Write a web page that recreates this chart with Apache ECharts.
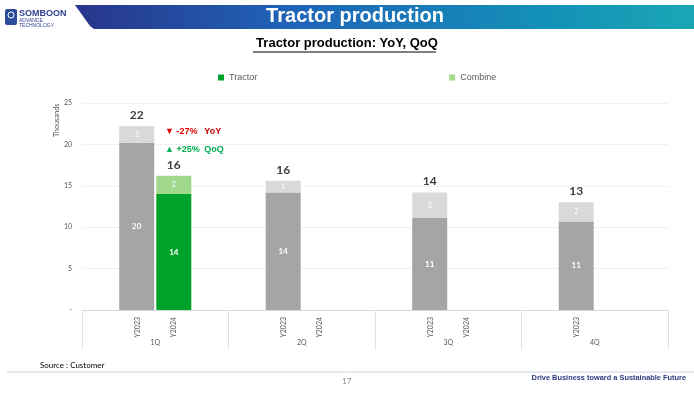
<!DOCTYPE html>
<html>
<head>
<meta charset="utf-8">
<script src="https://cdn.jsdelivr.net/npm/echarts@6/dist/echarts.min.js"></script>
<style>
  html, body { margin: 0; padding: 0; background: #fff; }
  #main { width: 694px; height: 398px; }
</style>
</head>
<body>
<div id="main"></div>
<script>
// data (thousand units)
var quarters = ['1Q', '2Q', '3Q', '4Q'];
var tractor2023 = [20.2, 14.2, 11.1, 10.7];
var combine2023 = [2.0, 1.4, 3.1, 2.3];
var tractor2024 = [14.0, null, null, null];
var combine2024 = [2.2, null, null, null];
var yearLabels = [['Y2023', 'Y2024'], ['Y2023', 'Y2024'], ['Y2023', 'Y2024'], ['Y2023']];

var font = 'Lato, "Noto Sans", sans-serif';
var narrow = '"Liberation Sans Narrow", "Liberation Sans", Arial, sans-serif';

function sum(a, b) {
    return a.map(function (v, i) { return v == null ? null : v + b[i]; });
}
var total2023 = sum(tractor2023, combine2023);
var total2024 = sum(tractor2024, combine2024);

var subData = [];
yearLabels.forEach(function (ys, q) {
    ys.forEach(function (y, k) { subData.push([q, 0, k, y]); });
});

var myChart = echarts.init(document.getElementById('main'));

function inside(size, bold) {
    return {
        show: true, position: 'inside', color: '#fff', fontSize: size,
        fontWeight: bold ? 'bold' : 'normal', fontFamily: font,
        formatter: function (p) { return Math.round(p.value); }
    };
}
function totalLabel(arr) {
    return {
        show: true, position: 'top', distance: 5, color: '#404040',
        fontSize: 12, fontWeight: 'bold', fontFamily: font,
        formatter: function (p) { return Math.round(arr[p.dataIndex]); }
    };
}

option = {
    animation: false,
    textStyle: { fontFamily: font },
    legend: {
        data: ['Tractor', 'Combine'],
        top: 68, left: 213, itemGap: 192,
        itemWidth: 6, itemHeight: 6, icon: 'rect',
        textStyle: { fontSize: 9, color: '#595959', fontFamily: narrow }
    },
    grid: { left: 82, right: 26, top: 103, bottom: 88 },
    xAxis: {
        type: 'category',
        data: quarters,
        axisLine: { lineStyle: { color: '#d9d9d9' } },
        axisTick: { show: true, length: 40, lineStyle: { color: '#e3e3e3' } },
        axisLabel: { margin: 29, fontSize: 7, color: '#595959' }
    },
    yAxis: {
        type: 'value', min: 0, max: 25, interval: 5,
        axisLine: { show: false },
        splitLine: { lineStyle: { color: '#f0f0f0' } },
        axisLabel: {
            fontSize: 7, color: '#595959', margin: 10,
            formatter: function (v) { return v === 0 ? '-' : v; }
        }
    },
    series: [
        { name: 'Tractor 2023', type: 'bar', stack: 'y2023', barWidth: 35, barGap: '6%',
          data: tractor2023, itemStyle: { color: '#a5a5a5' }, label: inside(8, true) },
        { name: 'Combine 2023', type: 'bar', stack: 'y2023',
          data: combine2023, itemStyle: { color: '#d9d9d9' }, label: inside(7, false) },
        { name: 'Total 2023', type: 'bar', stack: 'y2023',
          data: total2023.map(function () { return 0; }),
          itemStyle: { color: 'transparent' }, label: totalLabel(total2023) },
        { name: 'Tractor', type: 'bar', stack: 'y2024', barWidth: 35,
          data: tractor2024, itemStyle: { color: '#00a32a' }, label: inside(8, true) },
        { name: 'Combine', type: 'bar', stack: 'y2024',
          data: combine2024, itemStyle: { color: '#a0d98c' }, label: inside(7, false) },
        { name: 'Total 2024', type: 'bar', stack: 'y2024',
          data: total2024.map(function (v) { return v == null ? null : 0; }),
          itemStyle: { color: 'transparent' }, label: totalLabel(total2024) },
        {
            name: 'years', type: 'custom', clip: false, silent: true,
            data: subData,
            encode: { x: 0, y: 1 },
            renderItem: function (params, api) {
                var p = api.coord([api.value(0), 0]);
                var k = subData[params.dataIndex][2];
                return {
                    type: 'text',
                    x: p[0] + (k === 0 ? -18 : 18),
                    y: p[1] + 7,
                    rotation: Math.PI / 2,
                    style: {
                        text: subData[params.dataIndex][3],
                        fontSize: 7, fill: '#595959', fontFamily: font,
                        align: 'right', verticalAlign: 'middle'
                    }
                };
            }
        }
    ],
    graphic: [
        // header banner
        { type: 'polygon', shape: { points: [[75, 5], [694, 5], [694, 29], [94, 29], [90, 26]] },
          style: { fill: new echarts.graphic.LinearGradient(0, 0, 1, 0, [
              { offset: 0, color: '#28358a' }, { offset: 0.35, color: '#1f64b8' },
              { offset: 0.75, color: '#138fb8' }, { offset: 1, color: '#1ba6b4' }]) } },
        { type: 'text', x: 355, y: 6, z: 10,
          style: { text: 'Tractor production', fill: '#fff', fontSize: 20, align: 'center',
                   fontWeight: 'bold', fontFamily: narrow } },
        // logo
        { type: 'rect', shape: { x: 5, y: 9, width: 12, height: 16, r: 2 }, style: { fill: '#2e4c9c' } },
        { type: 'circle', shape: { cx: 11, cy: 15, r: 3 }, style: { fill: 'none', stroke: '#fff', lineWidth: 1 } },
        { type: 'text', x: 19, y: 9, style: { text: 'SOMBOON', fill: '#2e3f8f', fontSize: 9, fontWeight: 'bold', fontFamily: narrow } },
        { type: 'text', x: 19, y: 18, style: { text: 'ADVANCE', fill: '#2e3f8f', fontSize: 5, fontFamily: narrow } },
        { type: 'text', x: 19, y: 23, style: { text: 'TECHNOLOGY', fill: '#2e3f8f', fontSize: 5, fontFamily: narrow } },
        // subtitle
        { type: 'text', left: 'center', top: 37,
          style: { text: 'Tractor production: YoY, QoQ', fill: '#000', fontSize: 13,
                   fontWeight: 'bold', fontFamily: narrow } },
        { type: 'line', shape: { x1: 253, y1: 52, x2: 436, y2: 52 }, style: { stroke: '#000', lineWidth: 1 } },
        // axis unit
        { type: 'text', x: 57, y: 137, rotation: Math.PI / 2,
          style: { text: 'Thousands', fill: '#595959', fontSize: 7, fontFamily: font,
                   align: 'left', verticalAlign: 'middle' } },
        // YoY / QoQ notes
        { type: 'text', x: 165, y: 127,
          style: { text: '{r|▼ -27%}   {d|YoY}', fontSize: 9, fontFamily: font,
                   rich: { r: { fill: '#e00000', fontSize: 9, fontWeight: 'bold' },
                           d: { fill: '#c00000', fontSize: 9, fontWeight: 'bold' } } } },
        { type: 'text', x: 165, y: 145,
          style: { text: '{g|▲ +25%}  {h|QoQ}', fontSize: 9, fontFamily: font,
                   rich: { g: { fill: '#00b050', fontSize: 9, fontWeight: 'bold' },
                           h: { fill: '#00b050', fontSize: 9, fontWeight: 'bold' } } } },
        // footer
        { type: 'text', x: 40, y: 361, style: { text: 'Source : Customer', fill: '#000', fontSize: 8, fontFamily: font } },
        { type: 'line', shape: { x1: 7, y1: 372, x2: 694, y2: 372 }, style: { stroke: '#c8d0e2', lineWidth: 1 } },
        { type: 'text', x: 342, y: 377, style: { text: '17', fill: '#8c8c8c', fontSize: 8, fontFamily: font } },
        { type: 'text', right: 8, top: 374,
          style: { text: 'Drive Business toward a Sustainable Future', fill: '#2e3a80',
                   fontSize: 7.4, fontWeight: 'bold', fontFamily: '"Liberation Sans", Arial, sans-serif' } }
    ]
};

myChart.setOption(option);
</script>
</body>
</html>
